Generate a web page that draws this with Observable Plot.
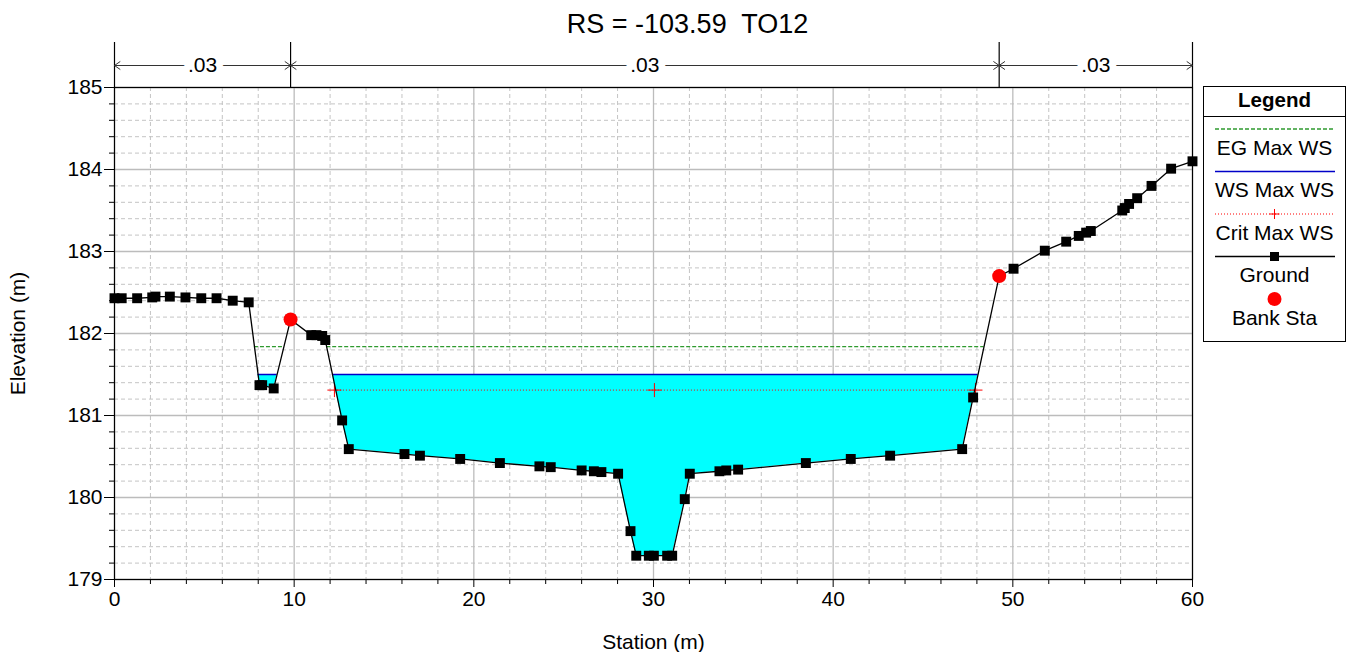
<!DOCTYPE html>
<html><head><meta charset="utf-8">
<script src="https://cdn.jsdelivr.net/npm/d3@7"></script>
<script src="https://cdn.jsdelivr.net/npm/@observablehq/plot@0.6"></script>
<style>
body{margin:0;background:#fff;font-family:"Liberation Sans",Arial,sans-serif;}
#wrap{position:relative;width:1351px;height:652px;overflow:hidden;}
#legend{position:absolute;left:1203px;top:86px;}
</style></head><body><div id="wrap"></div>
<script>
const title = "RS = -103.59  TO12";
const xLabel = "Station (m)";
const yLabel = "Elevation (m)";
const stations = [0.0,0.4,1.26,2.10,2.28,3.08,3.95,4.83,5.68,6.58,7.47,8.07,8.22,8.86,9.80,10.95,11.24,11.56,11.73,12.67,13.04,16.14,17.00,19.24,21.45,23.65,24.28,26.00,26.68,27.10,28.03,28.72,29.04,29.74,30.02,30.76,31.04,31.74,32.02,33.67,34.05,34.71,38.48,40.98,43.17,47.18,47.79,49.24,50.04,51.78,52.97,53.67,54.08,54.34,56.09,56.23,56.47,56.92,57.72,58.81,60.00];
const elevations = [182.43,182.43,182.43,182.44,182.45,182.45,182.44,182.43,182.43,182.40,182.38,181.37,181.37,181.33,182.17,181.98,181.98,181.97,181.92,180.94,180.59,180.53,180.51,180.47,180.42,180.38,180.37,180.33,180.32,180.31,180.29,179.59,179.29,179.29,179.29,179.29,179.29,179.98,180.29,180.32,180.33,180.34,180.42,180.47,180.51,180.59,181.22,182.70,182.79,183.01,183.12,183.19,183.23,183.25,183.50,183.53,183.58,183.65,183.80,184.01,184.10];
const bankSta = [9.80, 49.24];
const bankElev = [182.17, 182.70];
const wsElev = 181.50;
const egElev = 181.84;
const critElev = 181.31;
const wetStart = [7.99, 12.13];
const wetEnd = [9.05, 48.06];
const egStart = [7.79, 11.81];
const egEnd = [9.43, 48.40];
const critStart = [12.24];
const critEnd = [47.92];
const critMarks = [12.24, 30.05, 47.92];
const nBreaks = [0, 9.80, 49.24, 60];
const nValues = [".03", ".03", ".03"];
const xTicks = [0, 10, 20, 30, 40, 50, 60];
const yTicks = [179, 180, 181, 182, 183, 184, 185];

const ground = stations.map((s, i) => ({x: s, y: elevations[i]}));
const banks = bankSta.map((s, i) => ({x: s, y: bankElev[i]}));
const wet = [];
wetStart.forEach((a, k) => {
  const b = wetEnd[k];
  wet.push({pool: k, x: a, g: wsElev});
  ground.filter(d => d.x > a && d.x < b).forEach(d => wet.push({pool: k, x: d.x, g: d.y}));
  wet.push({pool: k, x: b, g: wsElev});
});
const wsSegs = wetStart.map((a, k) => ({a, b: wetEnd[k]}));
const egSegs = egStart.map((a, k) => ({a, b: egEnd[k]}));
const critSegs = critStart.map((a, k) => ({a, b: critEnd[k]}));
const nSegs = nValues.map((v, i) => ({a: nBreaks[i], b: nBreaks[i + 1], m: (nBreaks[i] + nBreaks[i + 1]) / 2, v}));

const xMinor = d3.range(0, 31).map(i => i * 2).filter(v => v % 10 !== 0);
const yMinorAll = d3.range(0, 31).map(i => +(179 + i * 0.2).toFixed(1));
const yMinor = yMinorAll.filter(v => !yTicks.includes(v));

const chart = Plot.plot({
  width: 1351, height: 652,
  marginLeft: 114, marginRight: 159, marginTop: 87, marginBottom: 73,
  style: {fontFamily: "'Liberation Sans', Arial, sans-serif", fontSize: "20px", background: "white", overflow: "visible"},
  x: {domain: [0, 60]},
  y: {domain: [179, 185]},
  marks: [
    Plot.ruleX(xMinor, {stroke: "#c4c4c4", strokeDasharray: "4,3", strokeWidth: 1}),
    Plot.ruleY(yMinor, {stroke: "#c4c4c4", strokeDasharray: "4,3", strokeWidth: 1}),
    Plot.ruleX(xTicks, {stroke: "#bcbcbc", strokeWidth: 1.3}),
    Plot.ruleY(yTicks, {stroke: "#bcbcbc", strokeWidth: 1.3}),
    Plot.areaY(wet, {x: "x", y1: "g", y2: wsElev, z: "pool", fill: "#00ffff", curve: "linear"}),
    Plot.ruleY(egSegs, {y: egElev, x1: "a", x2: "b", stroke: "#2f9a2f", strokeDasharray: "4,2", strokeWidth: 1.3}),
    Plot.ruleY(wsSegs, {y: wsElev, x1: "a", x2: "b", stroke: "#0000c8", strokeWidth: 1.5}),
    Plot.ruleY(critSegs, {y: critElev, x1: "a", x2: "b", stroke: "#ff0000", strokeDasharray: "1,2", strokeWidth: 1}),
    Plot.dot(critMarks, {x: d => d, y: critElev, symbol: "plus", r: 4.6, stroke: "#ff0000", strokeWidth: 1}),
    Plot.line(ground, {x: "x", y: "y", stroke: "black", strokeWidth: 1.3}),
    Plot.dot(ground, {x: "x", y: "y", symbol: "square", r: 5.6, fill: "black"}),
    Plot.dot(banks, {x: "x", y: "y", r: 7, fill: "#ff0000"}),
    Plot.frame({stroke: "black", strokeWidth: 1.2}),
    Plot.axisX(xTicks, {tickSize: 8, tickPadding: 4, fontSize: 21, label: null}),
    Plot.axisX(xMinor, {tickSize: 5, tickFormat: () => "", label: null}),
    Plot.axisY(yTicks, {tickSize: 10, tickPadding: 2, fontSize: 21, label: null, tickFormat: d3.format("d")}),
    Plot.axisY(yMinor, {tickSize: 5, tickFormat: () => "", label: null}),
    Plot.ruleX(nBreaks, {x: d => d, y1: 185, y2: 185, insetTop: -45, stroke: "black", strokeWidth: 1.2}),
    Plot.arrow(nSegs, {x1: "m", x2: "a", y1: 185, y2: 185, dy: -22, stroke: "#333", strokeWidth: 1, headLength: 10, headAngle: 70}),
    Plot.arrow(nSegs, {x1: "m", x2: "b", y1: 185, y2: 185, dy: -22, stroke: "#333", strokeWidth: 1, headLength: 10, headAngle: 70}),
    Plot.text(nSegs, {x: "m", y: 185, dy: -22, text: "v", fontSize: 21, fill: "black", stroke: "white", strokeWidth: 14, paintOrder: "stroke"}),
    Plot.text([title], {frameAnchor: "top", lineAnchor: "middle", dy: -63, dx: 34, fontSize: 27, fill: "black"}),
    Plot.text([xLabel], {frameAnchor: "bottom", lineAnchor: "middle", dy: 63, fontSize: 21, fill: "black"}),
    Plot.text([yLabel], {frameAnchor: "left", textAnchor: "middle", lineAnchor: "middle", dx: -96, rotate: -90, fontSize: 21, fill: "black"})
  ]
});
const wrap = document.getElementById("wrap");
wrap.appendChild(chart);

// Legend
const items = [
  {label: "EG Max WS", kind: "eg"},
  {label: "WS Max WS", kind: "ws"},
  {label: "Crit Max WS", kind: "crit"},
  {label: "Ground", kind: "ground"},
  {label: "Bank Sta", kind: "bank"}
];
const lw = 143, lh = 256;
const svg = d3.select(wrap).append("svg").attr("id", "legend").attr("width", lw).attr("height", lh)
  .style("font-family", "'Liberation Sans', Arial, sans-serif");
svg.append("rect").attr("x", 0.5).attr("y", 0.5).attr("width", lw - 1).attr("height", lh - 1).attr("fill", "white").attr("stroke", "black");
svg.append("text").attr("x", lw / 2).attr("y", 14).attr("dy", "0.35em").attr("text-anchor", "middle").attr("font-size", 20.5).attr("font-weight", "bold").text("Legend");
svg.append("line").attr("x1", 0).attr("x2", lw).attr("y1", 30.5).attr("y2", 30.5).attr("stroke", "black");
items.forEach((it, i) => {
  const y0 = 43 + i * 42.5;
  const g = svg.append("g");
  if (it.kind === "eg") g.append("line").attr("x1", 12).attr("x2", 132).attr("y1", y0).attr("y2", y0).attr("stroke", "#2f9a2f").attr("stroke-dasharray", "4,2").attr("stroke-width", 1.3);
  if (it.kind === "ws") g.append("line").attr("x1", 12).attr("x2", 132).attr("y1", y0).attr("y2", y0).attr("stroke", "#0000c8").attr("stroke-width", 1.5);
  if (it.kind === "crit") {
    g.append("line").attr("x1", 12).attr("x2", 132).attr("y1", y0).attr("y2", y0).attr("stroke", "#ff0000").attr("stroke-dasharray", "1,2");
    g.append("path").attr("d", `M${lw/2-5},${y0}h10M${lw/2},${y0-5}v10`).attr("stroke", "#ff0000");
  }
  if (it.kind === "ground") {
    g.append("line").attr("x1", 12).attr("x2", 132).attr("y1", y0).attr("y2", y0).attr("stroke", "black").attr("stroke-width", 1.3);
    g.append("rect").attr("x", lw/2 - 4.5).attr("y", y0 - 4.5).attr("width", 9).attr("height", 9).attr("fill", "black");
  }
  if (it.kind === "bank") g.append("circle").attr("cx", lw/2).attr("cy", y0).attr("r", 7).attr("fill", "#ff0000");
  g.append("text").attr("x", lw / 2).attr("y", y0 + 18.5).attr("dy", "0.35em").attr("text-anchor", "middle").attr("font-size", 21).attr("fill", "black").text(it.label);
});
</script></body></html>
